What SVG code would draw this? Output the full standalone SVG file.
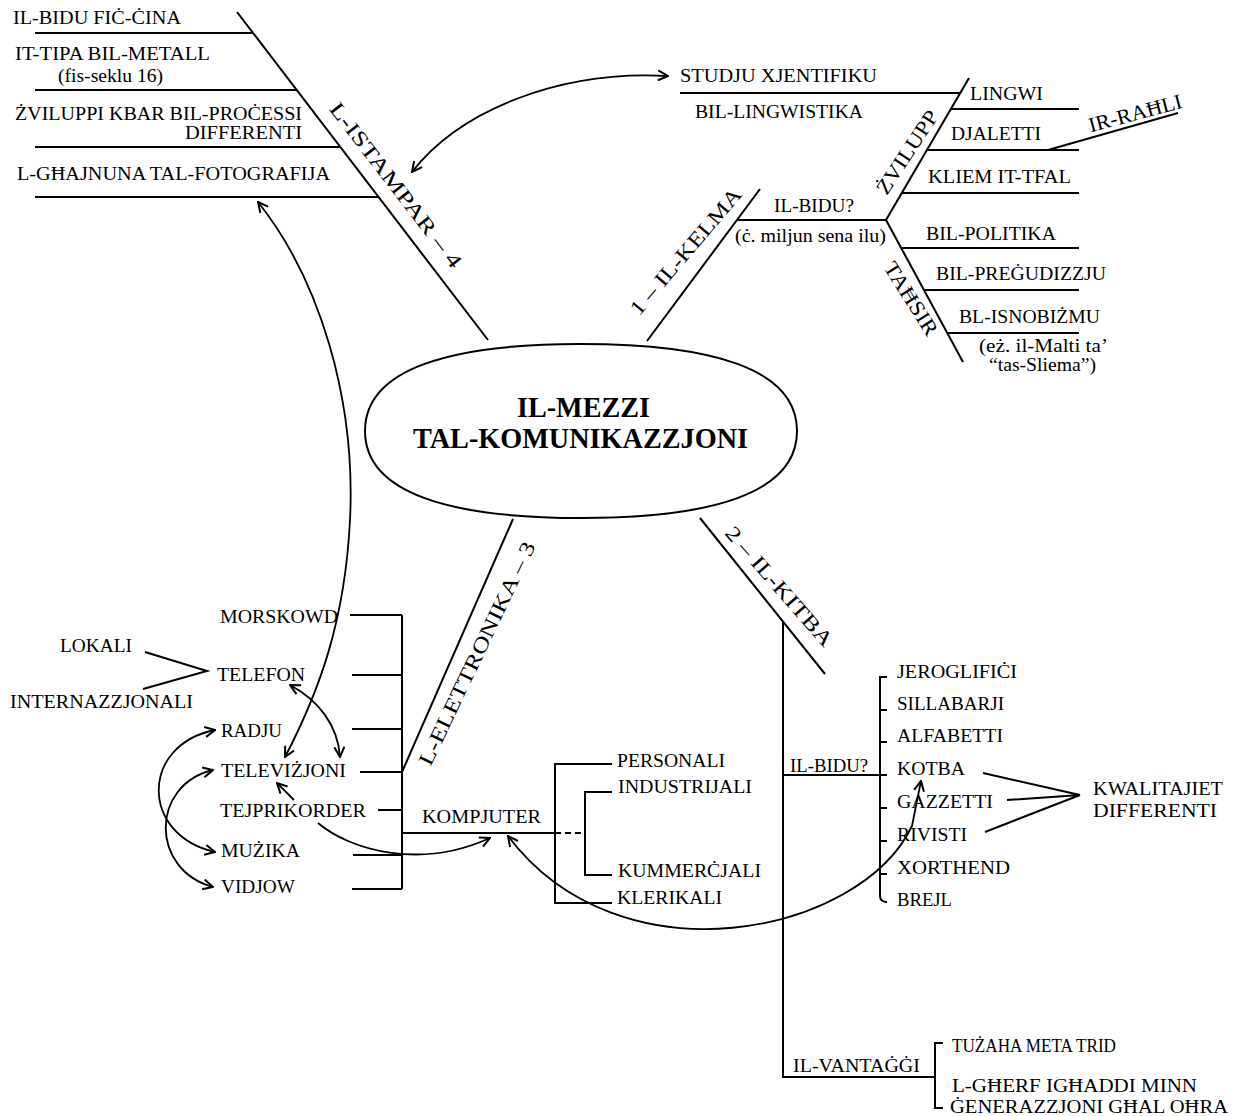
<svg xmlns="http://www.w3.org/2000/svg" width="1238" height="1116" viewBox="0 0 1238 1116">
<style>
.t{font-family:"Liberation Serif","DejaVu Serif",serif;font-size:19px;fill:#000}
.r{font-family:"Liberation Serif","DejaVu Serif",serif;font-size:21px;fill:#000}
.h{font-family:"Liberation Serif","DejaVu Serif",serif;font-size:29px;font-weight:bold;fill:#000}
.ln{stroke:#000;stroke-width:2;fill:none}
.ar{stroke:#000;stroke-width:1.8;fill:none;marker-end:url(#a)}
.ab{stroke:#000;stroke-width:1.8;fill:none;marker-start:url(#a);marker-end:url(#a)}
</style>
<defs>
<marker id="a" viewBox="0 0 12 12" markerWidth="12" markerHeight="12" markerUnits="userSpaceOnUse" refX="11" refY="6" orient="auto-start-reverse">
<path d="M1,1 L11,6 L1,11" fill="none" stroke="#000" stroke-width="2"/>
</marker>
</defs>
<rect width="1238" height="1116" fill="#fff"/>

<g id="connectors">
<path class="ln" d="M237,12 L488,340"/>
<path class="ln" d="M35,33 H253 M35,90 H297 M35,147 H340 M35,197 H379"/>
<path class="ln" d="M647,341 L760,189"/>
<path class="ln" d="M737,220 H886"/>
<path class="ln" d="M886,220 L969,78"/>
<path class="ln" d="M886,220 L963,362"/>
<path class="ln" d="M680,93 H960"/>
<path class="ln" d="M951,109 H1079 M927,150 H1079 M902,193 H1079"/>
<path class="ln" d="M1178,113 L1048,150"/>
<path class="ln" d="M901,248 H1079 M924,290 H1079 M947,333 H1079"/>
<path class="ln" d="M513,519 L402,772"/>
<path class="ln" d="M402,615 V889"/>
<path class="ln" d="M350,615 H402 M352,675 H402 M352,729 H402 M360,772 H402 M378,810 H402 M353,855 H402 M352,889 H402"/>
<path class="ln" d="M402,833 H555"/>
<path class="ln" d="M555,833 H585" stroke-dasharray="6,4"/>
<path class="ln" d="M612,764 H555 V903 H612"/>
<path class="ln" d="M612,792 H585 V875 H612"/>
<path class="ln" d="M145,652 L207,671 L143,689"/>
<path class="ln" d="M700,518 L825,674"/>
<path class="ln" d="M783,622 V1077 H935"/>
<path class="ln" d="M783,775 H887"/>
<path class="ln" d="M887,677 H880 V896 Q880,902 887,902"/>
<path class="ln" d="M880,710 H887 M880,742 H887 M880,808 H887 M880,841 H887 M880,874 H887"/>
<path class="ln" d="M983,773 L1080,795 M1007,800 L1080,795 M985,832 L1080,795"/>
<path class="ln" d="M943,1043 H935 V1108 H943"/>
<path class="ab" d="M412,172 C460,110 560,70 668,76"/>
<path class="ab" d="M258,202 C320,280 356,400 350,520 C345,620 320,690 285,757" stroke-width="2.3"/>
<path class="ab" d="M290,685 C318,700 338,725 340,757"/>
<path class="ab" d="M215,730 C140,745 140,835 215,852"/>
<path class="ab" d="M213,770 C150,785 150,870 213,887"/>
<path class="ar" d="M294,800 L277,783"/>
<path class="ar" d="M318,823 C350,850 420,870 490,838"/>
<path class="ab" d="M508,836 C620,985 860,935 912,826 L921,781"/>
</g>

<g id="center">
<path d="M365,431 C365,368 452,344 581,344 C710,344 797,368 797,431 C797,494 710,518 581,518 C452,518 365,494 365,431 Z" fill="#fff" stroke="#000" stroke-width="2"/>
<text class="h" x="517" y="417" textLength="133" lengthAdjust="spacingAndGlyphs">IL-MEZZI</text>
<text class="h" x="413" y="448" textLength="335" lengthAdjust="spacingAndGlyphs">TAL-KOMUNIKAZZJONI</text>
</g>

<g id="branch-istampar"><text class="r" transform="translate(390,189) rotate(52.4)" x="-101" y="0" textLength="203" lengthAdjust="spacingAndGlyphs">L-ISTAMPAR – 4</text></g>
<g id="branch-kelma"><text class="r" transform="translate(691,256) rotate(-49.5)" x="-80" y="0" textLength="160" lengthAdjust="spacingAndGlyphs">1 – IL-KELMA</text></g>
<g id="branch-elettronika"><text class="r" transform="translate(483,657) rotate(-64.5)" x="-122" y="0" textLength="245" lengthAdjust="spacingAndGlyphs">L-ELETTRONIKA – 3</text></g>
<g id="branch-kitba"><text class="r" transform="translate(774,591) rotate(48.8)" x="-76" y="0" textLength="152" lengthAdjust="spacingAndGlyphs">2 – IL-KITBA</text></g>
<g id="zvilupp"><text class="r" transform="translate(913,156) rotate(-56.7)" x="-48" y="0" textLength="96" lengthAdjust="spacingAndGlyphs">ŻVILUPP</text></g>
<g id="tahsir"><text class="r" transform="translate(905,302) rotate(57.7)" x="-41" y="0" textLength="83" lengthAdjust="spacingAndGlyphs">TAĦSIR</text></g>
<g id="ir-rahli"><text class="r" transform="translate(1137,120) rotate(-15)" x="-48" y="0" textLength="96" lengthAdjust="spacingAndGlyphs">IR-RAĦLI</text></g>

<g id="istampar-1"><text class="t" x="13" y="24" textLength="168" lengthAdjust="spacingAndGlyphs">IL-BIDU FIĊ-ĊINA</text></g>
<g id="istampar-2"><text class="t" x="15" y="60" textLength="195" lengthAdjust="spacingAndGlyphs">IT-TIPA BIL-METALL</text><text class="t" x="58" y="82" textLength="105" lengthAdjust="spacingAndGlyphs">(fis-seklu 16)</text></g>
<g id="istampar-3"><text class="t" x="15" y="120" textLength="287" lengthAdjust="spacingAndGlyphs">ŻVILUPPI KBAR BIL-PROĊESSI</text><text class="t" x="185" y="139" textLength="117" lengthAdjust="spacingAndGlyphs">DIFFERENTI</text></g>
<g id="istampar-4"><text class="t" x="17" y="180" textLength="313" lengthAdjust="spacingAndGlyphs">L-GĦAJNUNA TAL-FOTOGRAFIJA</text></g>

<g id="studju"><text class="t" x="680" y="82" textLength="197" lengthAdjust="spacingAndGlyphs">STUDJU XJENTIFIKU</text><text class="t" x="695" y="118" textLength="168" lengthAdjust="spacingAndGlyphs">BIL-LINGWISTIKA</text></g>
<g id="lingwi"><text class="t" x="970" y="100" textLength="73" lengthAdjust="spacingAndGlyphs">LINGWI</text></g>
<g id="djaletti"><text class="t" x="951" y="140" textLength="90" lengthAdjust="spacingAndGlyphs">DJALETTI</text></g>
<g id="kliem"><text class="t" x="928" y="183" textLength="143" lengthAdjust="spacingAndGlyphs">KLIEM IT-TFAL</text></g>
<g id="kelma-bidu"><text class="t" x="774" y="212" textLength="80" lengthAdjust="spacingAndGlyphs">IL-BIDU?</text><text class="t" x="735" y="242" textLength="151" lengthAdjust="spacingAndGlyphs">(ċ. miljun sena ilu)</text></g>
<g id="politika"><text class="t" x="926" y="240" textLength="130" lengthAdjust="spacingAndGlyphs">BIL-POLITIKA</text></g>
<g id="pregudizzju"><text class="t" x="936" y="280" textLength="170" lengthAdjust="spacingAndGlyphs">BIL-PREĠUDIZZJU</text></g>
<g id="isnobizmu"><text class="t" x="959" y="323" textLength="141" lengthAdjust="spacingAndGlyphs">BL-ISNOBIŻMU</text><text class="t" x="979" y="352" textLength="129" lengthAdjust="spacingAndGlyphs">(eż. il-Malti ta’</text><text class="t" x="989" y="371" textLength="107" lengthAdjust="spacingAndGlyphs">“tas-Sliema”)</text></g>

<g id="morskowd"><text class="t" x="220" y="623" textLength="118" lengthAdjust="spacingAndGlyphs">MORSKOWD</text></g>
<g id="lokali"><text class="t" x="60" y="652" textLength="72" lengthAdjust="spacingAndGlyphs">LOKALI</text></g>
<g id="telefon"><text class="t" x="217" y="681" textLength="88" lengthAdjust="spacingAndGlyphs">TELEFON</text></g>
<g id="internazzjonali"><text class="t" x="10" y="708" textLength="183" lengthAdjust="spacingAndGlyphs">INTERNAZZJONALI</text></g>
<g id="radju"><text class="t" x="221" y="737" textLength="61" lengthAdjust="spacingAndGlyphs">RADJU</text></g>
<g id="televizjoni"><text class="t" x="221" y="777" textLength="125" lengthAdjust="spacingAndGlyphs">TELEVIŻJONI</text></g>
<g id="tejprikorder"><text class="t" x="220" y="817" textLength="146" lengthAdjust="spacingAndGlyphs">TEJPRIKORDER</text></g>
<g id="muzika"><text class="t" x="221" y="857" textLength="79" lengthAdjust="spacingAndGlyphs">MUŻIKA</text></g>
<g id="vidjow"><text class="t" x="221" y="893" textLength="74" lengthAdjust="spacingAndGlyphs">VIDJOW</text></g>
<g id="kompjuter"><text class="t" x="422" y="823" textLength="119" lengthAdjust="spacingAndGlyphs">KOMPJUTER</text></g>
<g id="personali"><text class="t" x="617" y="767" textLength="108" lengthAdjust="spacingAndGlyphs">PERSONALI</text></g>
<g id="industrijali"><text class="t" x="618" y="793" textLength="134" lengthAdjust="spacingAndGlyphs">INDUSTRIJALI</text></g>
<g id="kummercjali"><text class="t" x="618" y="877" textLength="143" lengthAdjust="spacingAndGlyphs">KUMMERĊJALI</text></g>
<g id="klerikali"><text class="t" x="617" y="904" textLength="105" lengthAdjust="spacingAndGlyphs">KLERIKALI</text></g>

<g id="kitba-bidu"><text class="t" x="790" y="772" textLength="78" lengthAdjust="spacingAndGlyphs">IL-BIDU?</text></g>
<g id="jeroglifici"><text class="t" x="897" y="678" textLength="120" lengthAdjust="spacingAndGlyphs">JEROGLIFIĊI</text></g>
<g id="sillabarji"><text class="t" x="897" y="710" textLength="107" lengthAdjust="spacingAndGlyphs">SILLABARJI</text></g>
<g id="alfabetti"><text class="t" x="897" y="742" textLength="106" lengthAdjust="spacingAndGlyphs">ALFABETTI</text></g>
<g id="kotba"><text class="t" x="897" y="775" textLength="68" lengthAdjust="spacingAndGlyphs">KOTBA</text></g>
<g id="gazzetti"><text class="t" x="897" y="808" textLength="96" lengthAdjust="spacingAndGlyphs">GAZZETTI</text></g>
<g id="rivisti"><text class="t" x="897" y="841" textLength="70" lengthAdjust="spacingAndGlyphs">RIVISTI</text></g>
<g id="xorthend"><text class="t" x="897" y="874" textLength="113" lengthAdjust="spacingAndGlyphs">XORTHEND</text></g>
<g id="brejl"><text class="t" x="897" y="906" textLength="55" lengthAdjust="spacingAndGlyphs">BREJL</text></g>
<g id="kwalitajiet"><text class="t" x="1093" y="795" textLength="130" lengthAdjust="spacingAndGlyphs">KWALITAJIET</text><text class="t" x="1093" y="817" textLength="124" lengthAdjust="spacingAndGlyphs">DIFFERENTI</text></g>
<g id="vantaggi"><text class="t" x="793" y="1072" textLength="127" lengthAdjust="spacingAndGlyphs">IL-VANTAĠĠI</text></g>
<g id="tuzaha"><text class="t" x="952" y="1052" textLength="164" lengthAdjust="spacingAndGlyphs">TUŻAHA META TRID</text></g>
<g id="gherf"><text class="t" x="952" y="1092" textLength="245" lengthAdjust="spacingAndGlyphs">L-GĦERF IGĦADDI MINN</text><text class="t" x="950" y="1113" textLength="278" lengthAdjust="spacingAndGlyphs">ĠENERAZZJONI GĦAL OĦRA</text></g>
</svg>
